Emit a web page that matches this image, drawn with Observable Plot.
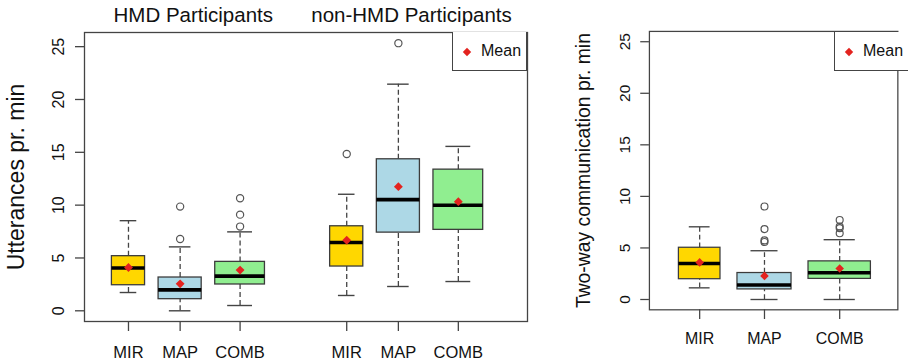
<!DOCTYPE html>
<html>
<head>
<meta charset="utf-8">
<script src="https://cdn.jsdelivr.net/npm/d3@7"></script>
<script src="https://cdn.jsdelivr.net/npm/@observablehq/plot@0.6"></script>
<style>
  html, body { margin: 0; padding: 0; background: #fff; }
  body { width: 908px; height: 364px; overflow: hidden; position: relative; font-family: "Liberation Sans", Arial, sans-serif; }
  #left { position: absolute; left: 0; top: 0; }
  #right { position: absolute; left: 560px; top: 0; }
  .legend { position: absolute; width: 75px; height: 39px; box-sizing: border-box; border: 1.3px solid #444; border-top: none; background: #fff; font-size: 16px; color: #111; }
  .legend svg { position: absolute; left: 9px; top: 15px; }
  .legend span { position: absolute; left: 28px; top: 10px; }
</style>
</head>
<body>
<div id="left"></div>
<div id="right"></div>
<div class="legend" style="left:452px; top:32px;"><svg width="10" height="10"><path d="M5,0.8L9.2,5L5,9.2L0.8,5Z" fill="#e3231f"/></svg><span>Mean</span></div>
<div class="legend" style="left:834px; top:32px;"><svg width="10" height="10"><path d="M5,0.8L9.2,5L5,9.2L0.8,5Z" fill="#e3231f"/></svg><span>Mean</span></div>
<script>
// ---- data ----
const groups = ["HMD Participants", "non-HMD Participants"];
const conditions = ["MIR", "MAP", "COMB"];

// Utterances pr. min (HMD: MIR, MAP, COMB, then non-HMD: MIR, MAP, COMB)
const uttWhiskerLow  = [1.73, 0.0, 0.5, 1.45, 2.3, 2.77];
const uttQ1          = [2.42, 1.1, 2.49, 4.19, 7.4, 7.66];
const uttMedian      = [4.05, 1.98, 3.28, 6.46, 10.52, 9.99];
const uttQ3          = [5.17, 3.15, 4.63, 8.0, 14.34, 13.36];
const uttWhiskerHigh = [8.53, 6.05, 7.47, 11.03, 21.45, 15.56];
const uttMean        = [4.1, 2.55, 3.85, 6.68, 11.75, 10.33];
const uttOutliers    = [[], [6.8, 9.86], [7.97, 9.1, 10.65], [14.84], [25.33], []];

// Two-way communication pr. min (MIR, MAP, COMB)
const twoWhiskerLow  = [1.13, 0.0, 0.0];
const twoQ1          = [1.97, 0.98, 2.0];
const twoMedian      = [3.5, 1.41, 2.6];
const twoQ3          = [5.02, 2.57, 3.7];
const twoWhiskerHigh = [7.05, 4.73, 5.8];
const twoMean        = [3.6, 2.29, 3.0];
const twoOutliers    = [[], [5.58, 5.73, 6.83, 9.02], [6.42, 6.92, 7.08, 7.71]];

const yTicks = [0, 5, 10, 15, 20, 25];

// ---- styles / layout ----
const fillColor = {MIR: "#ffd700", MAP: "#add8e6", COMB: "#90ee90"};
const boxWidth = {MIR: 0.6, MAP: 0.78, COMB: 0.9};
const boxGap = 0.245;
const groupOffset = 3.95;
const font = "'Liberation Sans', Arial, sans-serif";
const ink = "#111";
const edge = "#3c3c3c";

function layoutGroup(start) {
  let pos = [], x = start;
  conditions.forEach((c, i) => {
    if (i > 0) x += boxWidth[conditions[i - 1]] / 2 + boxGap + boxWidth[c] / 2;
    pos.push(x);
  });
  return pos;
}

function buildRows(nGroups, lo, q1, med, q3, hi, mean, outl) {
  const rows = [];
  for (let g = 0; g < nGroups; g++) {
    const pos = layoutGroup(g * groupOffset);
    conditions.forEach((c, i) => {
      const k = g * conditions.length + i;
      rows.push({cond: c, group: g, pos: pos[i], w: boxWidth[c],
        lo: lo[k], q1: q1[k], med: med[k], q3: q3[k], hi: hi[k], mean: mean[k], out: outl[k]});
    });
  }
  return rows;
}

function boxMarks(rows) {
  const outs = rows.flatMap(r => r.out.map(v => ({pos: r.pos, v})));
  return [
    Plot.ruleX(rows, {x: "pos", y1: "q3", y2: "hi", stroke: "#444", strokeWidth: 1.3, strokeDasharray: "5,3"}),
    Plot.ruleX(rows, {x: "pos", y1: "lo", y2: "q1", stroke: "#444", strokeWidth: 1.3, strokeDasharray: "5,3"}),
    Plot.ruleY(rows, {y: "hi", x1: d => d.pos - d.w / 4, x2: d => d.pos + d.w / 4, stroke: "#444", strokeWidth: 1.4}),
    Plot.ruleY(rows, {y: "lo", x1: d => d.pos - d.w / 4, x2: d => d.pos + d.w / 4, stroke: "#444", strokeWidth: 1.4}),
    Plot.rect(rows, {x1: d => d.pos - d.w / 2, x2: d => d.pos + d.w / 2, y1: "q1", y2: "q3",
      fill: d => fillColor[d.cond], stroke: edge, strokeWidth: 1.3}),
    Plot.ruleY(rows, {y: "med", x1: d => d.pos - d.w / 2, x2: d => d.pos + d.w / 2, stroke: "#000", strokeWidth: 3.6}),
    Plot.dot(outs, {x: "pos", y: "v", r: 3.6, stroke: "#555", strokeWidth: 1.2, fill: "none"}),
    Plot.dot(rows, {x: "pos", y: "mean", symbol: "diamond2", r: 4, fill: "#e3231f", stroke: "none"})
  ];
}

// ---- left panel ----
const uttRows = buildRows(2, uttWhiskerLow, uttQ1, uttMedian, uttQ3, uttWhiskerHigh, uttMean, uttOutliers);
const uttLabel = new Map(uttRows.map(r => [r.pos, r.cond]));
const groupCenters = groups.map((g, gi) => {
  const p = uttRows.filter(r => r.group === gi).map(r => r.pos);
  return {title: g, x: (p[0] + p[p.length - 1]) / 2};
});

const left = Plot.plot({
  width: 560, height: 364,
  marginLeft: 84, marginRight: 33, marginTop: 32, marginBottom: 43,
  style: {fontFamily: font, color: ink, background: "transparent", overflow: "visible"},
  x: {domain: [-0.796, 7.222], axis: null},
  y: {domain: [-1.013, 26.34], axis: null},
  marks: [
    ...boxMarks(uttRows),
    Plot.frame({stroke: "#444", strokeWidth: 1.3}),
    Plot.axisY({ticks: yTicks, tickSize: 9, tickPadding: 12, tickRotate: -90, fontSize: 16, stroke: "#444", strokeWidth: 1.3, label: null, fill: ink}),
    Plot.axisX({ticks: uttRows.map(r => r.pos), tickFormat: d => uttLabel.get(d), tickSize: 10, tickPadding: 15, fontSize: 16.5, stroke: "#444", strokeWidth: 1.3, label: null, fill: ink}),
    Plot.text(["Utterances pr. min"], {frameAnchor: "left", textAnchor: "middle", lineAnchor: "middle", dx: -68, rotate: -90, text: d => d, fontSize: 23, fill: ink}),
    Plot.text(groupCenters, {x: "x", frameAnchor: "top", dx: 9, dy: -17, text: "title", fontSize: 20.5, fill: ink, lineAnchor: "middle"})
  ]
});
document.getElementById("left").appendChild(left);

// ---- right panel ----
const twoRows = buildRows(1, twoWhiskerLow, twoQ1, twoMedian, twoQ3, twoWhiskerHigh, twoMean, twoOutliers);
const twoLabel = new Map(twoRows.map(r => [r.pos, r.cond]));

const right = Plot.plot({
  width: 360, height: 364,
  marginLeft: 92, marginRight: 11, marginTop: 32, marginBottom: 44,
  style: {fontFamily: font, color: ink, background: "transparent", overflow: "visible"},
  x: {domain: [-0.725, 2.859], axis: null},
  y: {domain: [-1, 26], axis: null},
  marks: [
    ...boxMarks(twoRows),
    Plot.frame({stroke: "#444", strokeWidth: 1.3}),
    Plot.axisY({ticks: yTicks, tickSize: 9, tickPadding: 11, tickRotate: -90, fontSize: 16, stroke: "#444", strokeWidth: 1.3, label: null, fill: ink}),
    Plot.axisX({ticks: twoRows.map(r => r.pos), tickFormat: d => twoLabel.get(d), tickSize: 10, tickPadding: 14, fontSize: 16.5, stroke: "#444", strokeWidth: 1.3, label: null, fill: ink}),
    Plot.text(["Two-way communication pr. min"], {frameAnchor: "left", textAnchor: "middle", lineAnchor: "middle", dx: -67.5, rotate: -90, text: d => d, fontSize: 20, fill: ink})
  ]
});
document.getElementById("right").appendChild(right);
</script>
</body>
</html>
